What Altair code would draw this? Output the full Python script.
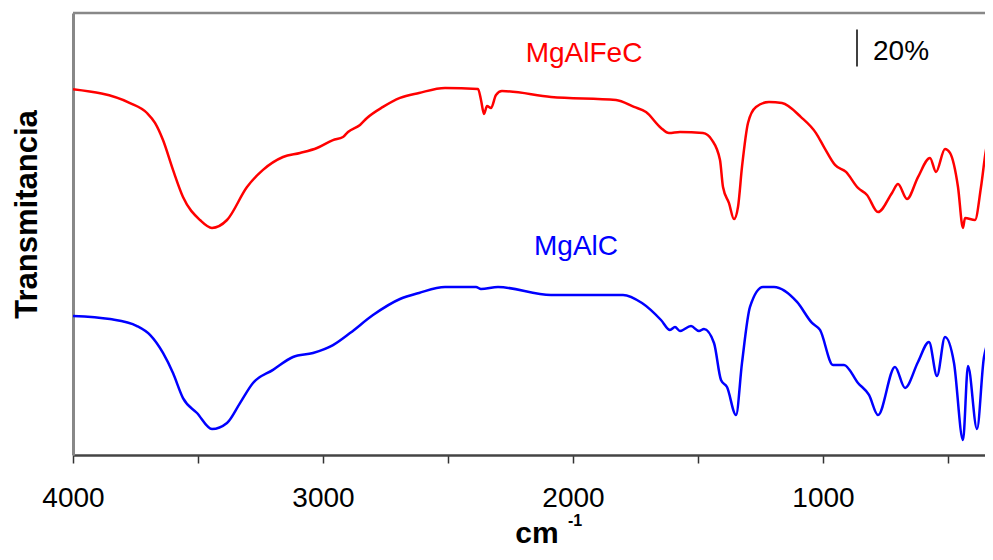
import altair as alt
import pandas as pd

# MgAlFeC (red) spectrum: wavenumber (cm-1) and transmittance (offset, %)
red_wn = [4000, 3772, 3704, 3672, 3640, 3600, 3560, 3492, 3444, 3384, 3304, 3240, 3160, 3092,
          3024, 2960, 2920, 2900, 2852, 2824, 2760, 2692, 2616, 2512, 2380, 2368, 2356, 2344,
          2328, 2308, 2284, 2088, 1828, 1756, 1708, 1648, 1616, 1572, 1480, 1444, 1412, 1400,
          1376, 1356, 1340, 1324, 1300, 1268, 1216, 1164, 1088, 1028, 996, 952, 908, 860, 824,
          780, 724, 700, 664, 620, 572, 548, 512, 492, 460, 440, 432, 392, 368, 348, 320]
red_t = [198.6, 191.1, 185.7, 180.3, 171.0, 154.8, 140.1, 127.6, 123.3, 127.6, 145.5, 154.8, 161.8, 164.0,
         166.7, 171.0, 172.7, 175.4, 179.2, 183.0, 189.0, 193.9, 196.6, 199.3, 198.7, 192.8, 185.2, 189.5,
         188.4, 195.5, 197.6, 194.4, 192.8, 189.0, 186.2, 177.6, 174.8, 175.4, 174.8, 171.0, 160.2, 145.5,
         136.8, 128.1, 134.7, 156.4, 180.3, 189.0, 191.7, 191.1, 183.5, 174.8, 167.2, 157.5, 153.7, 145.0, 141.2,
         131.9, 142.3, 147.1, 139.0, 150.9, 161.3, 153.7, 166.2, 164.0, 145.5, 123.3, 128.7, 127.6, 145.5, 165.6, 175.9]

# MgAlC (blue) spectrum
blue_wn = [4000, 3852, 3744, 3692, 3640, 3600, 3560, 3504, 3444, 3384, 3332, 3280, 3200, 3120,
           3040, 2960, 2892, 2800, 2692, 2616, 2512, 2388, 2368, 2300, 2088, 1800, 1724, 1648,
           1612, 1592, 1572, 1528, 1496, 1476, 1436, 1408, 1384, 1348, 1324, 1292, 1240, 1196,
           1104, 1044, 1012, 960, 916, 860, 816, 780, 712, 672, 620, 576, 544, 512, 476, 440,
           420, 384, 356, 320]
blue_t = [75.5, 73.8, 70.0, 65.2, 55.4, 44.5, 30.9, 22.8, 14.1, 17.4, 28.2, 39.1, 46.2, 53.2,
          55.4, 59.7, 66.2, 76.0, 84.7, 88.0, 91.2, 91.2, 90.1, 91.2, 86.9, 86.9, 82.5, 73.3,
          67.9, 69.5, 67.3, 70.0, 67.3, 68.4, 60.8, 40.7, 36.9, 21.7, 50.0, 80.4, 91.2, 91.2,
          83.1, 71.7, 67.9, 48.9, 48.9, 39.1, 32.6, 21.7, 47.8, 36.4, 50.5, 61.4, 42.9, 64.1, 50.0, 8.1,
          48.3, 14.1, 53.2, 66.2]

series_names = ["MgAlFeC", "MgAlC"]
series_colors = ["#FF0000", "#0000FF"]

label_wn = [1956, 1988]
label_t = [213.4, 108.6]

bar_wn = [864]
bar_t0 = [211]
bar_t1 = [231]
bar_text = ["20%"]
bar_text_wn = [800]
bar_text_t = [214.5]

x_ticks = [4000, 3500, 3000, 2500, 2000, 1500, 1000, 500]

FONT = "Liberation Sans"
W, H = 920, 442

df = pd.concat([
    pd.DataFrame({"wn": red_wn, "t": red_t, "s": series_names[0]}),
    pd.DataFrame({"wn": blue_wn, "t": blue_t, "s": series_names[1]}),
], ignore_index=True)
labels_df = pd.DataFrame({"wn": label_wn, "t": label_t, "s": series_names})
bar_df = pd.DataFrame({"wn": bar_wn, "t0": bar_t0, "t1": bar_t1})
bar_text_df = pd.DataFrame({"wn": bar_text_wn, "t": bar_text_t, "txt": bar_text})

xscale = alt.Scale(domain=[320, 4000], reverse=True, nice=False, zero=False)
yscale = alt.Scale(domain=[0, 240], nice=False, zero=False)
cscale = alt.Scale(domain=series_names, range=series_colors)

lines = alt.Chart(df).mark_line(strokeWidth=2.5, interpolate="monotone", clip=True).encode(
    x=alt.X("wn:Q", scale=xscale,
            axis=alt.Axis(values=x_ticks, format="d",
                          labelExpr="datum.value % 1000 == 0 ? datum.label : ''",
                          labelFontSize=28, labelFont=FONT, labelColor="black",
                          labelBaseline="alphabetic", labelPadding=43,
                          labelFlush=False, labelOverlap=False,
                          tickSize=8, tickColor="#333", tickWidth=1.5,
                          domainColor="#444", domainWidth=2.5, grid=False,
                          title="cm", titleFont=FONT, titleFontSize=30, titleFontWeight="bold",
                          titleColor="black", titleX=463.5, titleY=87,
                          titleAlign="center", titleBaseline="alphabetic")),
    y=alt.Y("t:Q", scale=yscale,
            axis=alt.Axis(labels=False, ticks=False, grid=False,
                          domainColor="#888", domainWidth=3,
                          title="Transmitancia", titleFont=FONT, titleFontSize=31,
                          titleFontWeight="bold", titleColor="black", titleAngle=270,
                          titleX=-37, titleY=201, titleAlign="center",
                          titleBaseline="alphabetic")),
    color=alt.Color("s:N", scale=cscale, legend=None),
    detail="s:N",
    order=alt.Order("wn:Q", sort="descending"),
)

series_labels = alt.Chart(labels_df).mark_text(
    font=FONT, fontSize=28, align="center", baseline="alphabetic"
).encode(
    x=alt.X("wn:Q", scale=xscale),
    y=alt.Y("t:Q", scale=yscale),
    text="s:N",
    color=alt.Color("s:N", scale=cscale, legend=None),
)

bar = alt.Chart(bar_df).mark_rule(color="black", strokeWidth=1.5).encode(
    x=alt.X("wn:Q", scale=xscale),
    y=alt.Y("t0:Q", scale=yscale),
    y2="t1:Q",
)

bar_label = alt.Chart(bar_text_df).mark_text(
    font=FONT, fontSize=28, align="left", baseline="alphabetic", color="black"
).encode(
    x=alt.X("wn:Q", scale=xscale),
    y=alt.Y("t:Q", scale=yscale),
    text="txt:N",
)

top_border = alt.Chart(pd.DataFrame({"k": [0]})).mark_rule(color="#888", strokeWidth=2.5).encode(
    x=alt.value(0), x2=alt.value(W), y=alt.value(0)
)

sup = alt.Chart(pd.DataFrame({"txt": ["-1"]})).mark_text(
    font=FONT, fontSize=16, fontWeight="bold", align="left", baseline="alphabetic", color="black"
).encode(
    x=alt.value(495), y=alt.value(513), text="txt:N"
)

chart = alt.layer(lines, series_labels, bar, bar_label, top_border, sup).properties(
    width=W, height=H,
    autosize=alt.AutoSizeParams(type="none"),
    padding={"left": 65, "top": 5, "right": -8, "bottom": 93},
).configure_view(stroke=None).configure(background="white")

chart.save("out.html", embed_options={"renderer": "svg", "actions": False})
